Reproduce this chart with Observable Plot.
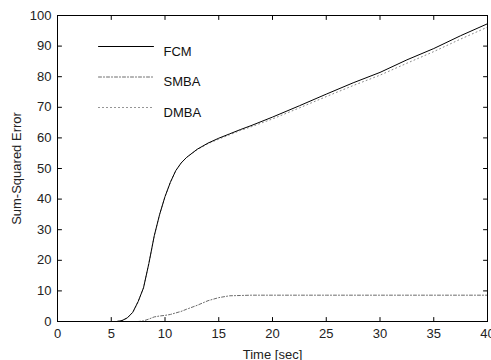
<!DOCTYPE html>
<html>
<head>
<meta charset="utf-8">
<script src="https://cdn.jsdelivr.net/npm/d3@7"></script>
<script src="https://cdn.jsdelivr.net/npm/@observablehq/plot@0.6"></script>
<style>
  html, body { margin: 0; padding: 0; background: #fff; }
  #chart svg { display: block; }
</style>
</head>
<body>
<div id="chart"></div>
<script>
const time = [0,1,2,3,4,5,5.5,6,6.5,7,7.5,8,8.5,9,9.5,10,10.5,11,11.5,12,13,14,15,16,17,18,20,22.5,25,27.5,30,32.5,35,37.5,40];
const fcm  = [0,0,0,0,0,0,0,0.3,1.2,3,6.5,11,19,28,35,40.8,45.5,49.3,51.8,53.6,56.3,58.3,59.9,61.3,62.7,64,66.8,70.5,74.3,78,81.4,85.5,89.2,93.4,97.3];
const dmba = [0,0,0,0,0,0,0,0.3,1.2,3,6.5,11,19,28,35,40.8,45.5,49.3,51.8,53.6,56.2,58.1,59.6,61.0,62.4,63.6,66.2,69.8,73.5,77.1,80.5,84.4,88.2,92.3,96.2];
const smba = [0,0,0,0,0,0,0,0,0,0,0,0.2,0.8,1.5,1.8,2,2.3,2.8,3.3,4,5.3,6.8,7.8,8.4,8.5,8.6,8.6,8.6,8.6,8.6,8.6,8.6,8.6,8.6,8.6];
const xTicks = [0,5,10,15,20,25,30,35,40];
const yTicks = [0,10,20,30,40,50,60,70,80,90,100];
const seriesNames = ["FCM", "SMBA", "DMBA"];
const seriesValues = [fcm, smba, dmba];
const seriesStroke = ["#000", "#6a6a6a", "#8a8a8a"];
const seriesDash = [null, "3,2,1,2", "1,3"];

const font = "'Liberation Sans', Arial, sans-serif";
const lineShape = {draw(ctx, l) { ctx.moveTo(0, 0); ctx.lineTo(0, -l); }};

const marks = [];
// series
[2, 1, 0].forEach(i => {
  const data = time.map((t, j) => ({t, v: seriesValues[i][j]}));
  marks.push(Plot.line(data, {x: "t", y: "v", stroke: seriesStroke[i], strokeWidth: 1, strokeDasharray: seriesDash[i]}));
});
// legend
seriesNames.forEach((name, i) => {
  marks.push(Plot.vector([name], {frameAnchor: "top-left", dx: 41, dy: 31 + i * 30.5, rotate: 90, length: 55, anchor: "start",
    shape: lineShape, stroke: seriesStroke[i], strokeWidth: 1, strokeDasharray: seriesDash[i]}));
  marks.push(Plot.text([name], {frameAnchor: "top-left", dx: 106, dy: 31 + i * 30.5, text: d => d, textAnchor: "start",
    fill: "#111", fontSize: 13, fontFamily: font}));
});
// inward ticks on all four sides
const tickOpts = {length: 4, anchor: "start", shape: lineShape, stroke: "#000", strokeWidth: 1};
marks.push(
  Plot.vector(xTicks, {...tickOpts, x: d => d, frameAnchor: "bottom", rotate: 0}),
  Plot.vector(xTicks, {...tickOpts, x: d => d, frameAnchor: "top", rotate: 180}),
  Plot.vector(yTicks, {...tickOpts, y: d => d, frameAnchor: "left", rotate: 90}),
  Plot.vector(yTicks, {...tickOpts, y: d => d, frameAnchor: "right", rotate: -90}),
  Plot.axisX(xTicks, {anchor: "bottom", tickSize: 0, tickPadding: 7, fontSize: 13, color: "#222", fontFamily: font,
    label: "Time [sec]", labelAnchor: "center", labelOffset: 37, labelArrow: "none"}),
  Plot.axisY(yTicks, {anchor: "left", tickSize: 0, tickPadding: 6, fontSize: 13, color: "#222", fontFamily: font,
    label: "Sum-Squared Error", labelAnchor: "center", labelOffset: 46, labelArrow: "none"}),
  Plot.frame({stroke: "#000", strokeWidth: 1})
);

const chart = Plot.plot({
  width: 491,
  height: 360,
  marginLeft: 57,
  marginRight: 4,
  marginTop: 15,
  marginBottom: 39,
  style: {fontFamily: font, fontSize: "13px", background: "#fff", color: "#222"},
  x: {domain: [0, 40]},
  y: {domain: [0, 100]},
  marks
});
document.getElementById("chart").appendChild(chart);
</script>
</body>
</html>
